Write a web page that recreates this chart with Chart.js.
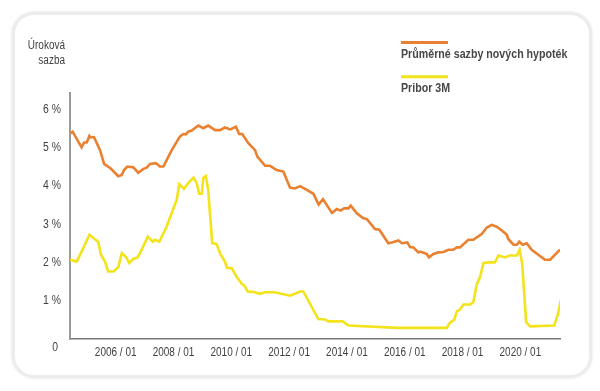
<!DOCTYPE html>
<html><head><meta charset="utf-8">
<script src="https://cdn.jsdelivr.net/npm/chart.js@4.4.1/dist/chart.umd.min.js"></script>
<style>
html,body{margin:0;padding:0;background:#fff;width:600px;height:391px;overflow:hidden}
#card{position:absolute;left:12px;top:12px;width:574px;height:360px;border:3px solid #ececec;border-radius:22px;background:#fff;box-shadow:0 0 3px #e0e0e0}
canvas{position:absolute;left:0;top:0}
</style></head><body>
<div id="card"></div>
<canvas id="c" width="600" height="391"></canvas>
<script>
const seriesNames = ['Průměrné sazby nových hypoték', 'Pribor 3M'];
const axisTitle = ['Úroková', 'sazba'];
const tickYears = [2006, 2008, 2010, 2012, 2014, 2016, 2018, 2020];
const yTicks = [0, 1, 2, 3, 4, 5, 6];

const mortgageYears = [2004.44,2004.51,2004.82,2004.91,2005.00,2005.09,2005.13,2005.25,2005.46,2005.60,2005.83,2006.09,2006.21,2006.29,2006.40,2006.61,2006.78,2006.96,2007.07,2007.19,2007.39,2007.53,2007.65,2007.94,2008.22,2008.34,2008.43,2008.51,2008.63,2008.86,2009.03,2009.20,2009.44,2009.61,2009.78,2009.96,2010.16,2010.27,2010.38,2010.59,2010.82,2010.90,2011.17,2011.34,2011.57,2011.80,2012.03,2012.20,2012.38,2012.61,2012.84,2013.02,2013.17,2013.48,2013.65,2013.78,2013.90,2014.05,2014.13,2014.34,2014.57,2014.69,2014.97,2015.12,2015.43,2015.55,2015.78,2015.90,2016.09,2016.18,2016.30,2016.47,2016.53,2016.76,2016.84,2016.99,2017.16,2017.34,2017.51,2017.68,2017.80,2017.91,2018.20,2018.37,2018.66,2018.84,2019.01,2019.18,2019.36,2019.53,2019.58,2019.76,2019.88,2019.96,2020.08,2020.22,2020.39,2020.62,2020.85,2021.03,2021.37];
const mortgageRates = [5.37,5.41,5.00,5.13,5.13,5.30,5.26,5.27,4.93,4.57,4.45,4.25,4.28,4.41,4.50,4.48,4.34,4.44,4.47,4.57,4.59,4.50,4.50,4.93,5.28,5.35,5.34,5.41,5.44,5.57,5.50,5.57,5.45,5.45,5.52,5.47,5.54,5.35,5.35,5.11,4.93,4.76,4.52,4.52,4.41,4.37,3.95,3.93,3.99,3.89,3.79,3.51,3.65,3.29,3.39,3.35,3.41,3.41,3.48,3.28,3.15,3.13,2.87,2.85,2.50,2.52,2.57,2.50,2.52,2.40,2.39,2.26,2.28,2.22,2.13,2.22,2.26,2.27,2.33,2.33,2.39,2.39,2.59,2.59,2.74,2.91,2.98,2.93,2.83,2.72,2.61,2.46,2.46,2.54,2.46,2.50,2.33,2.20,2.07,2.07,2.33];

const priborYears = [2004.42,2004.65,2004.88,2005.09,2005.40,2005.49,2005.63,2005.74,2005.92,2006.09,2006.21,2006.36,2006.47,2006.61,2006.76,2006.90,2007.11,2007.28,2007.36,2007.51,2007.76,2008.11,2008.20,2008.36,2008.51,2008.69,2008.80,2008.89,2008.98,2009.03,2009.12,2009.20,2009.34,2009.49,2009.62,2009.78,2009.85,2010.01,2010.19,2010.36,2010.44,2010.57,2010.76,2010.99,2011.17,2011.51,2012.03,2012.20,2012.38,2012.49,2013.01,2013.24,2013.36,2013.85,2014.05,2015.72,2017.45,2017.57,2017.71,2017.80,2017.91,2018.03,2018.26,2018.37,2018.49,2018.61,2018.72,2018.89,2019.12,2019.24,2019.47,2019.62,2019.88,2019.97,2020.06,2020.20,2020.34,2021.17,2021.31,2021.40];
const priborRates = [2.07,2.02,2.37,2.72,2.53,2.20,2.02,1.76,1.76,1.87,2.24,2.14,1.98,2.09,2.13,2.33,2.67,2.54,2.59,2.54,2.93,3.63,4.04,3.92,4.07,4.21,4.07,3.79,3.79,4.20,4.25,3.89,2.50,2.48,2.22,2.02,1.86,1.85,1.62,1.44,1.40,1.24,1.23,1.18,1.22,1.22,1.13,1.18,1.24,1.24,0.52,0.51,0.46,0.46,0.35,0.29,0.29,0.43,0.50,0.72,0.77,0.90,0.90,0.96,1.42,1.63,1.98,2.00,2.00,2.18,2.13,2.18,2.18,2.33,1.98,0.43,0.33,0.35,0.68,1.02];

const FONT = '"Liberation Sans", Arial, sans-serif';
const TEXT = '#3f3f3f';
const SX = 0.8; // condensed look

function drawText(ctx, s, x, y, align, font, color, sx) {
  ctx.save();
  ctx.font = font;
  ctx.fillStyle = color;
  ctx.textBaseline = 'middle';
  ctx.textAlign = 'left';
  const w = ctx.measureText(s).width * sx;
  const left = align === 'right' ? x - w : align === 'center' ? x - w / 2 : x;
  ctx.translate(left, y);
  ctx.scale(sx, 1);
  ctx.fillText(s, 0, 0);
  ctx.restore();
}

const overlay = {
  id: 'overlay',
  afterDraw(chart) {
    const ctx = chart.ctx;
    const xs = chart.scales.x, ys = chart.scales.y;
    drawText(ctx, axisTitle[0], 65, 46, 'right', '12.5px ' + FONT, TEXT, SX);
    drawText(ctx, axisTitle[1], 65, 61, 'right', '12.5px ' + FONT, TEXT, SX);
    ys.ticks.forEach(t => {
      const py = ys.getPixelForValue(t.value);
      if (t.value === 0) drawText(ctx, '0', 58, py + 8, 'right', '13px ' + FONT, TEXT, SX);
      else drawText(ctx, t.value + ' %', 61, py, 'right', '13px ' + FONT, TEXT, SX);
    });
    xs.ticks.forEach(t => {
      drawText(ctx, t.value + ' / 01', xs.getPixelForValue(t.value), 353, 'center', '12.5px ' + FONT, TEXT, SX);
    });
    chart.data.datasets.forEach((ds, i) => {
      const ly = 42.5 + i * 34.3;
      ctx.save();
      ctx.strokeStyle = ds.borderColor;
      ctx.lineWidth = 3;
      ctx.beginPath();
      ctx.moveTo(401, ly);
      ctx.lineTo(448, ly);
      ctx.stroke();
      ctx.restore();
      drawText(ctx, ds.label, 401, ly + 11.5, 'left', 'bold 13px ' + FONT, '#474747', 0.82);
    });
  }
};

new Chart(document.getElementById('c'), {
  type: 'line',
  data: {
    datasets: [
      { label: seriesNames[0], data: mortgageYears.map((x, i) => ({ x, y: mortgageRates[i] })),
        borderColor: '#ea8130', borderWidth: 2.6 },
      { label: seriesNames[1], data: priborYears.map((x, i) => ({ x, y: priborRates[i] })),
        borderColor: '#f3e31b', borderWidth: 2.6 }
    ]
  },
  options: {
    responsive: false,
    animation: false,
    layout: { padding: { top: 93, right: 40, left: 0, bottom: 0 } },
    plugins: { legend: { display: false }, tooltip: { enabled: false } },
    elements: { point: { radius: 0 }, line: { tension: 0 } },
    scales: {
      x: {
        type: 'linear', min: 2004.42, max: 2021.37,
        grid: { display: false },
        border: { display: true, color: '#7a7a7a', width: 1.5 },
        afterBuildTicks: s => { s.ticks = tickYears.map(v => ({ value: v })); },
        ticks: { display: false },
        afterFit: s => { s.height = 52; }
      },
      y: {
        min: 0, max: 6.42,
        grid: { display: false },
        border: { display: true, color: '#9a9a9a', width: 2 },
        afterBuildTicks: s => { s.ticks = yTicks.map(v => ({ value: v })); },
        ticks: { display: false },
        afterFit: s => { s.width = 70; }
      }
    }
  },
  plugins: [overlay]
});
</script>
</body></html>
